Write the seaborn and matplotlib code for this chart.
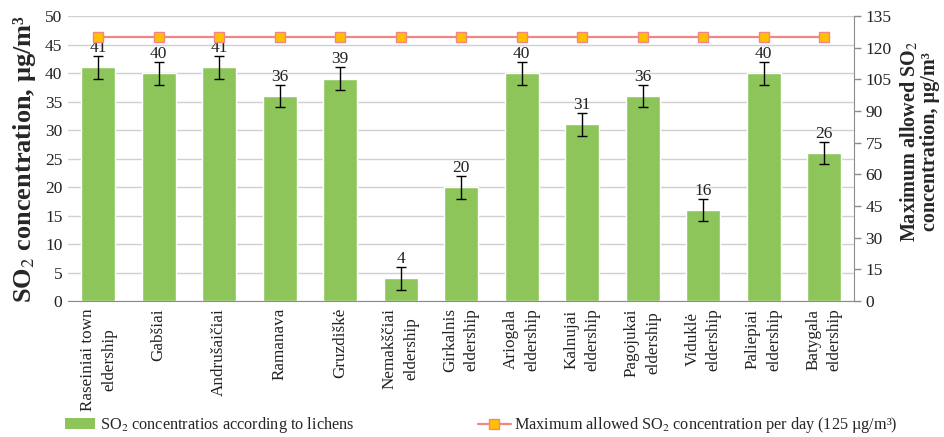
import matplotlib
matplotlib.use("Agg")
import matplotlib.pyplot as plt
import seaborn as sns
import pandas as pd
from matplotlib.patches import Patch
from matplotlib.lines import Line2D

sns.set_style("white")
plt.rcParams["font.family"] = ["Liberation Serif", "DejaVu Serif"]
plt.rcParams["mathtext.fontset"] = "stix"

categories = [
    "Raseiniai town\neldership", "Gabšiai", "Andrušaičiai", "Ramanava", "Gruzdiškė",
    "Nemakščiai\neldership", "Girkalnis\neldership", "Ariogala\neldership",
    "Kalnujai\neldership", "Pagojukai\neldership", "Viduklė\neldership",
    "Paliepiai\neldership", "Batygala\neldership",
]
so2_lichens = [41, 40, 41, 36, 39, 4, 20, 40, 31, 36, 16, 40, 26]
so2_error = [2, 2, 2, 2, 2, 2, 2, 2, 2, 2, 2, 2, 2]
max_allowed = [125] * 13

bar_color = "#8DC55A"
line_color = "#F08784"
marker_color = "#FFC000"

df = pd.DataFrame({"site": categories, "value": so2_lichens, "err": so2_error})

fig = plt.figure(figsize=(9.44, 4.37), dpi=100)
ax = fig.add_axes([0.072, 0.311, 0.833, 0.652])

sns.barplot(data=df, x="site", y="value", color=bar_color, width=0.56,
            errorbar=None, ax=ax, zorder=2, saturation=1)
xs = list(range(len(categories)))
ax.errorbar(xs, so2_lichens, yerr=so2_error, fmt="none", ecolor="black",
            elinewidth=1.0, capsize=3.5, capthick=1.0, zorder=3)
for x, v, e in zip(xs, so2_lichens, so2_error):
    ax.annotate(f"{v}", (x, v + e), xytext=(0, 0), textcoords="offset points",
                ha="center", va="bottom", fontsize=12.5, color="#222222", zorder=4)

ax.set_ylim(0, 50)
ax.set_yticks(range(0, 51, 5))
ax.set_xlim(-0.5, len(categories) - 0.5)
ax.yaxis.grid(True, color="#d0d0d0", linewidth=1.0, zorder=0)
ax.set_axisbelow(True)
ax.set_xlabel("")
ax.set_ylabel("SO$_2$ concentration, µg/m³", fontsize=19, fontweight="bold", labelpad=5)
ax.tick_params(axis="y", labelsize=12.5, length=0, pad=4, colors="#222222")
ax.tick_params(axis="x", labelsize=12.3, length=0, pad=5, colors="#222222")
ax.set_xticks(xs)
ax.set_xticklabels(categories, rotation=90, va="top", ha="center",
                   linespacing=1.45)
for s in ["top", "left", "right"]:
    ax.spines[s].set_visible(False)
ax.spines["bottom"].set_color("#8c8c8c")

ax2 = ax.twinx()
ax2.plot(xs, max_allowed, color=line_color, linewidth=1.6, marker="s",
         markersize=7, markerfacecolor=marker_color, markeredgecolor=line_color,
         markeredgewidth=1.0, zorder=5)
ax2.set_ylim(0, 135)
ax2.set_yticks(range(0, 136, 15))
ax2.tick_params(axis="y", labelsize=12.5, length=5, width=1, direction="out",
                pad=3, colors="#222222")
ax2.tick_params(axis="y", color="#8c8c8c")
for s in ["top", "left", "bottom"]:
    ax2.spines[s].set_visible(False)
ax2.spines["right"].set_color("#8c8c8c")
ax2.set_ylabel("Maximum allowed SO$_2$\nconcentration, µg/m³", fontsize=14.5,
               fontweight="bold", rotation=90, linespacing=1.0)
ax2.yaxis.set_label_position("right")
ax2.yaxis.set_label_coords(1.056, 0.56)

h1 = [Patch(facecolor=bar_color, edgecolor="none")]
h2 = [Line2D([0], [0], color=line_color, linewidth=1.6, marker="s", markersize=7,
             markerfacecolor=marker_color, markeredgecolor=line_color)]
leg1 = fig.legend(h1, ["SO$_2$ concentratios according to lichens"],
                  loc="center left", bbox_to_anchor=(65 / 944, 0.027), frameon=False,
                  fontsize=11.7, handlelength=1.85, handleheight=0.6,
                  handletextpad=0.3, borderpad=0, borderaxespad=0)
leg2 = fig.legend(h2, ["Maximum allowed SO$_2$ concentration per day (125 µg/m³)"],
                  loc="center left", bbox_to_anchor=(478 / 944, 0.027), frameon=False,
                  fontsize=11.7, handlelength=2.0, handletextpad=0.2,
                  borderpad=0, borderaxespad=0)

fig.savefig("out.png", dpi=100)
